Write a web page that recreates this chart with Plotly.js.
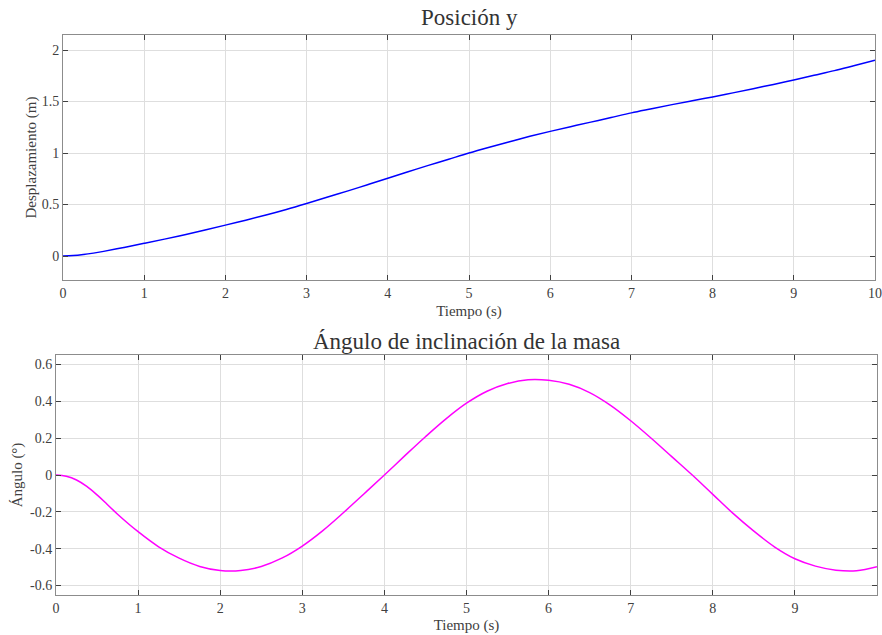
<!DOCTYPE html>
<html>
<head>
<meta charset="utf-8">
<script src="https://cdn.plot.ly/plotly-3.0.1.min.js"></script>
<style>html,body{margin:0;padding:0;background:#fff;}#chart{width:882px;height:635px;}</style>
</head>
<body>
<div id="chart"></div>
<script>
// Data
const tiempoPos = [0, 0.125, 0.25, 0.375, 0.5, 0.75, 1, 1.25, 1.5, 1.75, 2, 2.25, 2.5, 2.75, 3, 3.25, 3.5, 3.75, 4, 4.25, 4.5, 4.75, 5, 5.25, 5.5, 5.75, 6, 6.25, 6.5, 6.75, 7, 7.25, 7.5, 7.75, 8, 8.25, 8.5, 8.75, 9, 9.25, 9.5, 9.75, 10];
const posicionY = [0, 0.004, 0.014, 0.028, 0.045, 0.083, 0.123, 0.164, 0.207, 0.252, 0.30, 0.348, 0.398, 0.452, 0.51, 0.57, 0.63, 0.692, 0.755, 0.818, 0.88, 0.94, 1.0, 1.056, 1.11, 1.162, 1.21, 1.256, 1.30, 1.345, 1.39, 1.43, 1.47, 1.508, 1.545, 1.584, 1.625, 1.666, 1.71, 1.755, 1.80, 1.85, 1.90];

const tiempoAng = [0, 0.125, 0.25, 0.375, 0.5, 0.625, 0.75, 1, 1.25, 1.5, 1.75, 2, 2.25, 2.5, 2.75, 3, 3.25, 3.5, 3.75, 4, 4.25, 4.5, 4.75, 5, 5.25, 5.5, 5.75, 6, 6.25, 6.5, 6.75, 7, 7.25, 7.5, 7.75, 8, 8.25, 8.5, 8.75, 9, 9.25, 9.5, 9.75, 10];
const anguloMasa = [0, -0.007, -0.027, -0.062, -0.108, -0.16, -0.213, -0.308, -0.39, -0.452, -0.497, -0.519, -0.519, -0.497, -0.452, -0.386, -0.302, -0.205, -0.103, 0, 0.105, 0.208, 0.305, 0.39, 0.455, 0.497, 0.518, 0.515, 0.493, 0.448, 0.38, 0.295, 0.2, 0.1, 0, -0.105, -0.21, -0.305, -0.39, -0.455, -0.495, -0.517, -0.52, -0.498];

const xTicks = [0,1,2,3,4,5,6,7,8,9,10];
const yTicksPos = [0, 0.5, 1, 1.5, 2];
const yTicksAng = [-0.6, -0.4, -0.2, 0, 0.2, 0.4, 0.6];

const fontFam = 'Liberation Serif, Times New Roman, serif';
const txtColor = '#404040';

function axisBase(extra) {
  return Object.assign({
    showline: true, mirror: 'ticks', linecolor: '#8c8c8c', linewidth: 1,
    ticks: 'inside', ticklen: 5, tickcolor: '#404040',
    showgrid: true, gridcolor: '#dedede', gridwidth: 1,
    zeroline: false,
    tickfont: {family: fontFam, size: 14, color: txtColor},
    fixedrange: true
  }, extra);
}

const traces = [
  {x: tiempoPos, y: posicionY, type: 'scatter', mode: 'lines', line: {color: '#0000ff', width: 1.5, shape: 'spline', smoothing: 1}, xaxis: 'x', yaxis: 'y', hoverinfo: 'skip'},
  {x: tiempoAng, y: anguloMasa, type: 'scatter', mode: 'lines', line: {color: '#ff00ff', width: 1.5, shape: 'spline', smoothing: 1}, xaxis: 'x2', yaxis: 'y2', hoverinfo: 'skip'}
];

const layout = {
  width: 882, height: 635,
  margin: {l: 0, r: 0, t: 0, b: 0},
  paper_bgcolor: '#ffffff', plot_bgcolor: '#ffffff',
  showlegend: false,
  font: {family: fontFam, color: txtColor},
  xaxis: axisBase({domain: [63/882, 875/882], range: [0, 10], anchor: 'y', tickvals: xTicks,
    title: {text: 'Tiempo (s)', font: {family: fontFam, size: 15, color: txtColor}, standoff: 5}}),
  yaxis: axisBase({domain: [(635-280)/635, (635-35)/635], range: [-0.233, 2.146], anchor: 'x', tickvals: yTicksPos,
    title: {text: 'Desplazamiento (m)', font: {family: fontFam, size: 15, color: txtColor}, standoff: 1}}),
  xaxis2: axisBase({domain: [56/882, 877/882], range: [0, 10], anchor: 'y2', tickvals: xTicks,
    title: {text: 'Tiempo (s)', font: {family: fontFam, size: 15, color: txtColor}, standoff: 4}}),
  yaxis2: axisBase({domain: [(635-595)/635, (635-355)/635], range: [-0.652, 0.652], anchor: 'x2', tickvals: yTicksAng,
    ticktext: yTicksAng.map(v => v === 0 ? '0' : String(v)),
    title: {text: 'Ángulo (°)', font: {family: fontFam, size: 15, color: txtColor}, standoff: 3}}),
  annotations: [
    {text: 'Posición y', x: 469/882, y: 1 - 18/635, xref: 'paper', yref: 'paper', xanchor: 'center', yanchor: 'middle', showarrow: false,
     font: {family: fontFam, size: 23, color: '#333333'}},
    {text: 'Ángulo de inclinación de la masa', x: 466/882, y: 1 - 341/635, xref: 'paper', yref: 'paper', xanchor: 'center', yanchor: 'middle', showarrow: false,
     font: {family: fontFam, size: 23, color: '#333333'}}
  ]
};

Plotly.newPlot('chart', traces, layout, {displayModeBar: false, staticPlot: true});
</script>
</body>
</html>
